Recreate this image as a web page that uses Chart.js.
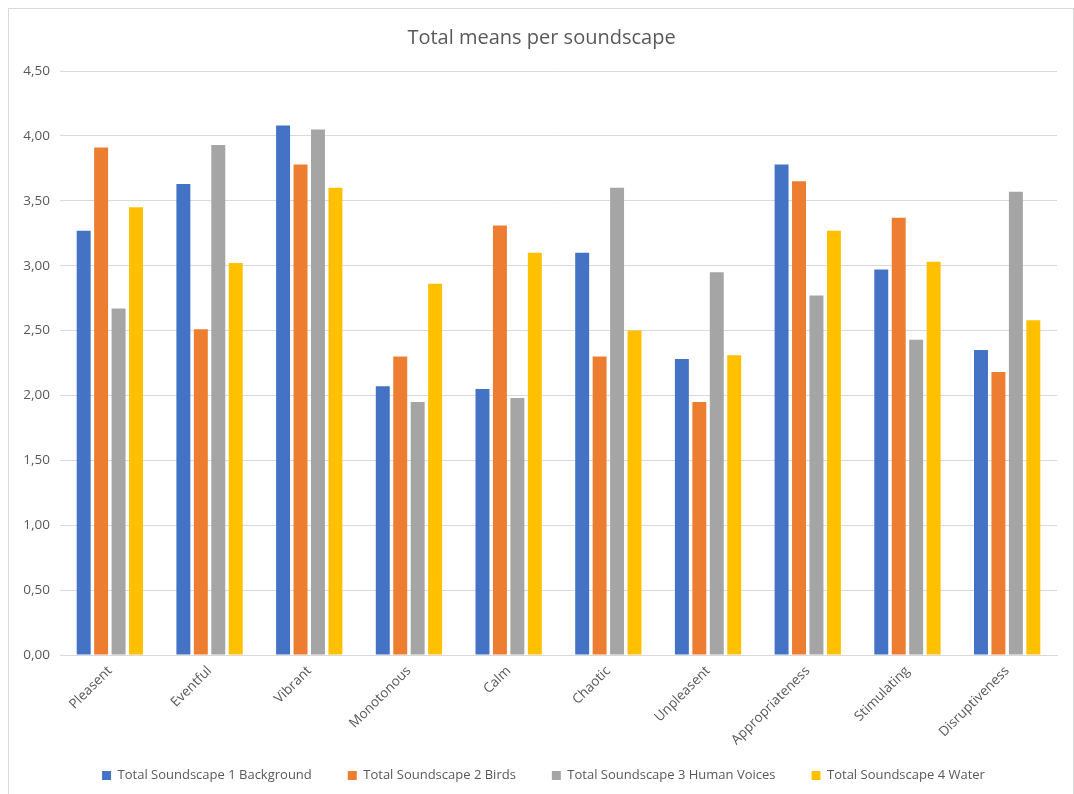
<!DOCTYPE html>
<html>
<head>
<meta charset="utf-8">
<script src="https://cdn.jsdelivr.net/npm/chart.js@4.4.0/dist/chart.umd.min.js"></script>
<style>
  html, body { margin: 0; padding: 0; background: #fff; }
  #wrap { position: relative; width: 1074px; height: 794px; }
  #frame { position: absolute; left: 8px; top: 8px; width: 1064px; height: 800px; border: 1px solid #d9d9d9; pointer-events: none; }
</style>
</head>
<body>
<div id="wrap">
  <canvas id="chart" width="1074" height="794"></canvas>
  <div id="frame"></div>
</div>
<script>
const categories = ["Pleasent", "Eventful", "Vibrant", "Monotonous", "Calm", "Chaotic", "Unpleasent", "Appropriateness", "Stimulating", "Disruptiveness"];

const background = [3.27, 3.63, 4.08, 2.07, 2.05, 3.10, 2.28, 3.78, 2.97, 2.35];
const birds = [3.91, 2.51, 3.78, 2.30, 3.31, 2.30, 1.95, 3.65, 3.37, 2.18];
const humanVoices = [2.67, 3.93, 4.05, 1.95, 1.98, 3.60, 2.95, 2.77, 2.43, 3.57];
const water = [3.45, 3.02, 3.60, 2.86, 3.10, 2.50, 2.31, 3.27, 3.03, 2.58];

const seriesNames = ["Total Soundscape 1 Background", "Total Soundscape 2 Birds", "Total Soundscape 3 Human Voices", "Total Soundscape 4 Water"];
const colors = ["#4472C4", "#ED7D31", "#A5A5A5", "#FFC000"];

const FONT = "'Open Sans', 'Noto Sans', sans-serif";
const TXT = "#595959";

const sets = [background, birds, humanVoices, water].map((d, i) => ({
  label: seriesNames[i],
  data: d,
  backgroundColor: colors[i],
  borderWidth: 0,
  barPercentage: 0.8,
  categoryPercentage: 0.7
}));

// let the rotated x labels run into the legend band, and nudge title/legend like Excel does
const nudge = {
  id: "nudge",
  afterLayout(c) {
    c.scales.x.bottom += 20;
    c.legend.left += 10;
    c.legend.right += 10;
    c.legend.top -= 2;
    c.legend.bottom -= 2;
    c.titleBlock.left += 8;
    c.titleBlock.right += 8;
    c.titleBlock.top += 2;
    c.titleBlock.bottom += 2;
  }
};

new Chart(document.getElementById("chart"), {
  type: "bar",
  data: { labels: categories, datasets: sets },
  plugins: [nudge],
  options: {
    responsive: false,
    animation: false,
    layout: { padding: { left: 10, right: 17, top: 0, bottom: 0 } },
    plugins: {
      title: {
        display: true,
        text: "Total means per soundscape",
        color: TXT,
        font: { family: FONT, size: 20, weight: "normal" },
        padding: { top: 24, bottom: 23 }
      },
      legend: {
        position: "bottom",
        labels: {
          color: TXT,
          font: { family: FONT, size: 13 },
          boxWidth: 9,
          boxHeight: 9,
          padding: 36
        }
      },
      tooltip: { enabled: false }
    },
    scales: {
      x: {
        grid: { display: false, drawTicks: false },
        border: { color: "#d9d9d9" },
        ticks: {
          color: TXT,
          font: { family: FONT, size: 13.5 },
          minRotation: 45,
          maxRotation: 45,
          padding: 8
        },
        afterFit: (s) => { s.height = 80; }
      },
      y: {
        min: 0,
        max: 4.5,
        grid: { color: "#d9d9d9", drawTicks: false },
        border: { display: false },
        ticks: {
          stepSize: 0.5,
          color: TXT,
          font: { family: FONT, size: 13.5 },
          padding: 10,
          callback: (v) => v.toFixed(2).replace(".", ",")
        },
        afterFit: (s) => { s.width = 50; }
      }
    }
  }
});
</script>
</body>
</html>
